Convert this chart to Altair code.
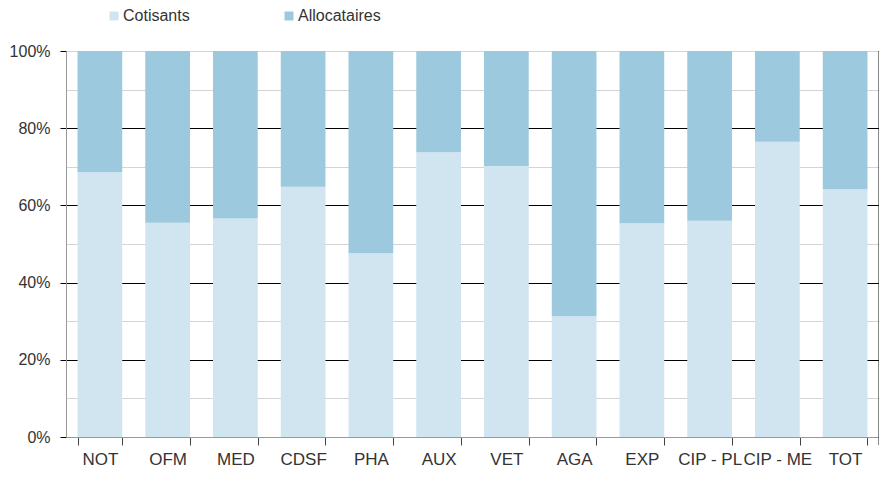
import altair as alt
import pandas as pd

categories = ["NOT", "OFM", "MED", "CDSF", "PHA", "AUX", "VET", "AGA", "EXP", "CIP - PL", "CIP - ME", "TOT"]
cotisants = [68.6, 55.5, 56.6, 64.8, 47.6, 73.8, 70.2, 31.3, 55.4, 56.0, 76.5, 64.2]
allocataires = [31.4, 44.5, 43.4, 35.2, 52.4, 26.2, 29.8, 68.7, 44.6, 44.0, 23.5, 35.8]
series = ["Cotisants", "Allocataires"]
colors = ["#d1e5f0", "#9cc9dd"]

rows = []
for i, c in enumerate(categories):
    rows.append({"cat": c, "serie": series[0], "val": cotisants[i], "ord": 0})
    rows.append({"cat": c, "serie": series[1], "val": allocataires[i], "ord": 1})
df = pd.DataFrame(rows)

y_ticks = [0, 10, 20, 30, 40, 50, 60, 70, 80, 90, 100]
FONT = "Liberation Sans"
TXT = "#333333"

bars = alt.Chart(df).mark_bar().encode(
    x=alt.X("cat:N", sort=categories,
            scale=alt.Scale(paddingInner=0.34, paddingOuter=0.17),
            axis=alt.Axis(title=None, labelAngle=0, tickBand="extent", tickSize=8,
                          domainColor="#999999", tickColor="#444444", labelPadding=6,
                          labelOverlap=False, labelFontSize=17, labelColor=TXT,
                          labelFont=FONT, grid=False)),
    y=alt.Y("val:Q", stack="zero",
            scale=alt.Scale(domain=[0, 100], nice=False),
            axis=alt.Axis(title=None, values=y_ticks,
                          labelExpr="datum.value % 20 == 0 ? datum.value + '%' : ''",
                          tickSize=6, labelPadding=10, labelFontSize=16,
                          labelColor=TXT, labelFont=FONT,
                          domainColor="#999999",
                          tickColor={"condition": {"test": "datum.value % 20 != 0", "value": "transparent"},
                                     "value": "#000000"},
                          grid=True,
                          gridColor={"condition": {"test": "datum.value % 20 == 0 && datum.value != 0 && datum.value != 100",
                                                   "value": "#000000"},
                                     "value": "#d4d4d4"})),
    color=alt.Color("serie:N", scale=alt.Scale(domain=series, range=colors),
                    legend=alt.Legend(title=None, orient="none", legendX=40, legendY=-43,
                                      direction="horizontal", symbolType="square",
                                      symbolSize=81, symbolStrokeWidth=0,
                                      labelFontSize=16, labelColor=TXT,
                                      labelFont=FONT, labelOffset=1,
                                      columnPadding=91)),
    order=alt.Order("ord:Q", sort="ascending"),
)

border = alt.Chart(pd.DataFrame({"a": [0]})).mark_rule(color="#111111", strokeWidth=1).encode(
    x=alt.value(813), y=alt.value(0), y2=alt.value(394)
)

chart = alt.layer(bars, border).properties(
    width=813, height=386,
    padding={"left": 58, "top": 43, "right": 0, "bottom": 30},
    autosize=alt.AutoSizeParams(type="none"),
).configure_view(stroke=None)

chart.save("out.html", embed_options={"renderer": "svg", "actions": False})
